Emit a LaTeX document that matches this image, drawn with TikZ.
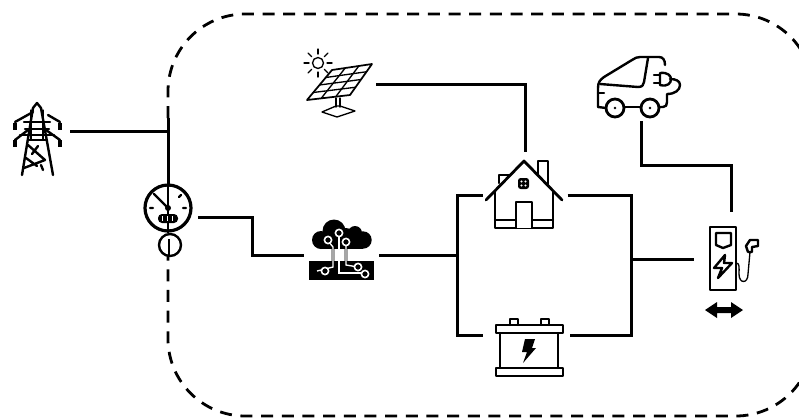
\documentclass[tikz,border=0pt]{standalone}
\usepackage{tikz}
\usetikzlibrary{calc}
\tikzset{
  iconbox/.style={inner sep=0pt, outer sep=0pt},
  wire/.style={line width=2.25pt},
  iconline/.style={line width=1.8pt, line join=round, line cap=round},
  thinline/.style={line width=1pt, line join=round, line cap=round},
  trace/.style={line width=0.5pt, double=white, double distance=1pt},
  tracedot/.style={circle, draw=white, fill=black, line width=1.2pt, inner sep=0pt, minimum size=5.4pt}
}
\begin{document}
\begin{tikzpicture}[x=0.75pt, y=-0.75pt]
  \useasboundingbox (0,0) rectangle (799,419);
  \clip (0,0) rectangle (799,419);
  % boundary
  \draw[line width=2.1pt, dash pattern=on 9pt off 6.5pt, rounded corners=58pt] (168,118) -- (168,14)
    -- (813,14) -- (813,416) -- (168,416) -- (168,256);

  % anchors
  \node[iconbox, minimum width=51pt, minimum height=60pt] (tower) at (36,131) {};
  \node[iconbox, minimum width=54pt, minimum height=51pt] (solar) at (340,84) {};
  \node[iconbox, minimum width=63pt, minimum height=48pt] (car) at (641,89) {};
  \node[iconbox, circle, minimum size=36pt] (meter) at (168,208) {};
  \node[iconbox, minimum width=56.25pt, minimum height=52pt] (cloud) at (341.5,255) {};
  \node[iconbox, minimum width=63.75pt, minimum height=64.5pt] (house) at (525,195) {};
  \node[iconbox, minimum width=65.25pt, minimum height=61.5pt] (battery) at (526.5,335) {};
  \node[iconbox, minimum width=55.5pt, minimum height=70.5pt] (charger) at (731,259) {};
  \coordinate (gridtop) at (168,118);
  \coordinate (gridtap) at (168,131);
  \coordinate (meterout) at (198,217);
  \coordinate (meterbend) at (252,217);
  \coordinate (leftbus) at (457,255);
  \coordinate (rightbus) at (631,259);

  % connectors
  \draw[wire] (gridtop) -- (meter.north);
  \draw[wire] (tower.east |- gridtap) -- (gridtap);
  \draw[wire] (meterout) -- (meterbend) |- (cloud.west);
  \draw[wire] (cloud.east) -- (leftbus);
  \draw[wire] (house.west) -| (leftbus) |- (battery.west);
  \draw[wire] (house.east) -| (rightbus) |- (battery.east);
  \draw[wire] (rightbus) -- (charger.west);
  \draw[wire] (solar.east) -| (house.north);
  \draw[wire] (car.south) |- (731,165) -- (charger.north);

  % tower
  \draw[iconline] (22,175) -- (33,108) -- (37,103) -- (41,108) -- (53,175);
  \draw[iconline] (24,122) -- (50,122) (20,135) -- (54,135) (25,129) -- (49,129) (28,140) -- (47,140);
  \draw[iconline] (15,122) -- (33,112) (48,115) -- (60,122);
  \draw[iconline] (15,140) -- (28,130) (46,130) -- (60,140);
  \draw[thinline] (31,110) -- (31,140) (43,110) -- (43,140);
  \draw[iconline] (28,145) -- (45,160) -- (24,168) (32,154) -- (38,146) (26,158) -- (37,166) (43,170) -- (41,165);
  \foreach \towerx in {15,60}
    \foreach \towery in {123,140}
      \draw[line width=3.2pt] (\towerx,\towery) -- (\towerx,\towery+7);

  % meter
  \draw[line width=2.4pt] (meter) circle[radius=23];
  \draw[iconline] (154,194) -- (168,208);
  \draw[line width=1.8pt] (168,186) -- (168,233);
  \fill (168,208) circle[radius=3];
  \draw[iconline] (150,208) -- (153,208) (183,208) -- (186,208) (179,197) -- (181,195);
  \fill[rounded corners=3pt] (158,214) rectangle (178,223);
  \foreach \dialx in {162,167,172}
    \draw[white, line width=0.5pt] (\dialx,216) -- (\dialx,221);
  \draw[line width=1.8pt] (170,245) circle[radius=11];
  \draw[line width=1.8pt] (169,239) -- (169,256);

  % solar panel
  \draw[thinline, line width=1.3pt] (332,70) -- (372,64) -- (350,95) -- (307,100) -- cycle;
  \foreach \panelt in {0.33,0.67} {
    \draw[thinline] ($(332,70)!\panelt!(372,64)$) -- ($(307,100)!\panelt!(350,95)$);
  }
  \foreach \panelt in {0.25,0.5,0.75} {
    \draw[thinline] ($(332,70)!\panelt!(307,100)$) -- ($(372,64)!\panelt!(350,95)$);
  }
  \draw[thinline] (336,98) -- (336,107) (340,98) -- (340,107);
  \draw[thinline] (322,112) -- (336,106) -- (340,106) -- (355,111) -- (337,117) -- cycle;
  \draw[thinline] (318,63) circle[radius=5.5];
  \foreach \sunangle in {0,45,...,315}
    \draw[thinline] (318,63) ++(\sunangle:9) -- ++(\sunangle:5);

  % cloud
  \foreach \blobx/\bloby/\blobr in {321/240/9, 334/231/11.5, 346/238/10, 355/233/7, 363/240/8.7}
    \fill (\blobx,\bloby) circle[radius=\blobr];
  \fill (321,238) rectangle (363,248.7);
  \fill (309,261) rectangle (374,280);
  \draw[trace] (328,241) -- (333,247) -- (333,267) -- (317,271);
  \draw[trace] (339,234) -- (339,273) -- (365,273);
  \draw[trace] (346,243) -- (346,265) -- (358,267);
  \node[tracedot] (dota) at (328,240) {};
  \node[tracedot] (dotb) at (339,233) {};
  \node[tracedot] (dotc) at (346,242) {};
  \node[tracedot] (dotd) at (325,271) {};
  \node[tracedot] (dote) at (358,267) {};
  \node[tracedot] (dotf) at (365,274) {};

  % house
  \draw[iconline] (538,175) -- (538,161) -- (548,161) -- (548,184);
  \draw[iconline] (499,183) -- (499,175) -- (510,175);
  \draw[iconline, line width=2.1pt] (486,200) -- (524,161) -- (562,200);
  \draw[iconline] (495,191) -- (495,228) -- (553,228) -- (553,191);
  \draw[iconline] (495,220) -- (553,220);
  \draw[iconline, fill=white] (516,228) -- (516,202) -- (532,202) -- (532,228);
  \fill[rounded corners=2pt] (518,178) rectangle (529,189);
  \foreach \panex in {521.5,525.5}
    \foreach \paney in {181.5,185.5}
      \fill[white] (\panex,\paney) circle[radius=1.1];

  % battery
  \draw[iconline] (510,325) -- (510,319) -- (518,319) -- (518,325);
  \draw[iconline] (541,325) -- (541,319) -- (549,319) -- (549,325);
  \draw[iconline] (496,325) rectangle (563,333);
  \draw[iconline] (496,368) rectangle (563,376);
  \draw[iconline] (500,333) -- (500,368) (558,333) -- (558,368);
  \fill (525,339) -- (535,339) -- (532,348) -- (536,348) -- (523,363) -- (527,352) -- (522,352) -- cycle;

  % car
  \draw[iconline] (606,108) -- (598,107) -- (598,88) .. controls (598,82) and (600,80) .. (604,77)
    -- (632,60) .. controls (635,58) and (637,57) .. (640,57) -- (659,57) .. controls (663,57) and (665,60) .. (665,65);
  \draw[iconline] (600,84) -- (638,87) .. controls (642,87) and (644,85) .. (644,82) -- (648,58);
  \draw[iconline] (598,93) -- (604,93);
  \draw[iconline] (624,107) -- (641,107);
  \draw[iconline] (659,107) -- (663,107) .. controls (666,107) and (667,105) .. (667,102) -- (667,94)
    .. controls (675,94) and (680,90) .. (680,85) .. controls (680,81) and (676,79) .. (670,79);
  \draw[iconline] (660,73) .. controls (668,72) and (671,76) .. (671,79) .. controls (671,83) and (668,87) .. (660,85) -- cycle;
  \draw[iconline] (654,75) -- (660,75) (654,83) -- (660,83);
  \foreach \wheelx in {615,650} {
    \draw[iconline, line width=2.1pt, fill=white] (\wheelx,108) circle[radius=9];
    \fill (\wheelx,108) circle[radius=1.3];
  }

  % charger
  \draw[iconline] (710,227) rectangle (736,290);
  \draw[iconline] (716,233) -- (731,233) -- (731,245) -- (723,248) -- (716,245) -- cycle;
  \draw[iconline] (725,255) -- (714,268) -- (722,268) -- (718,278) -- (732,263) -- (724,263) -- cycle;
  \draw[thinline] (736,263) .. controls (740,263) and (739,268) .. (739,274)
    .. controls (739,284) and (748,284) .. (748,274) -- (750,252);
  \draw[iconline] (748,252) -- (752,252) -- (752,247) -- (758,246) -- (758,240) -- (750,240) -- (746,246) -- (748,252);
  \fill (705,310) -- (717,302) -- (717,307) -- (731,307) -- (731,302) -- (743,310)
    -- (731,318) -- (731,313) -- (717,313) -- (717,318) -- cycle;
\end{tikzpicture}
\end{document}
